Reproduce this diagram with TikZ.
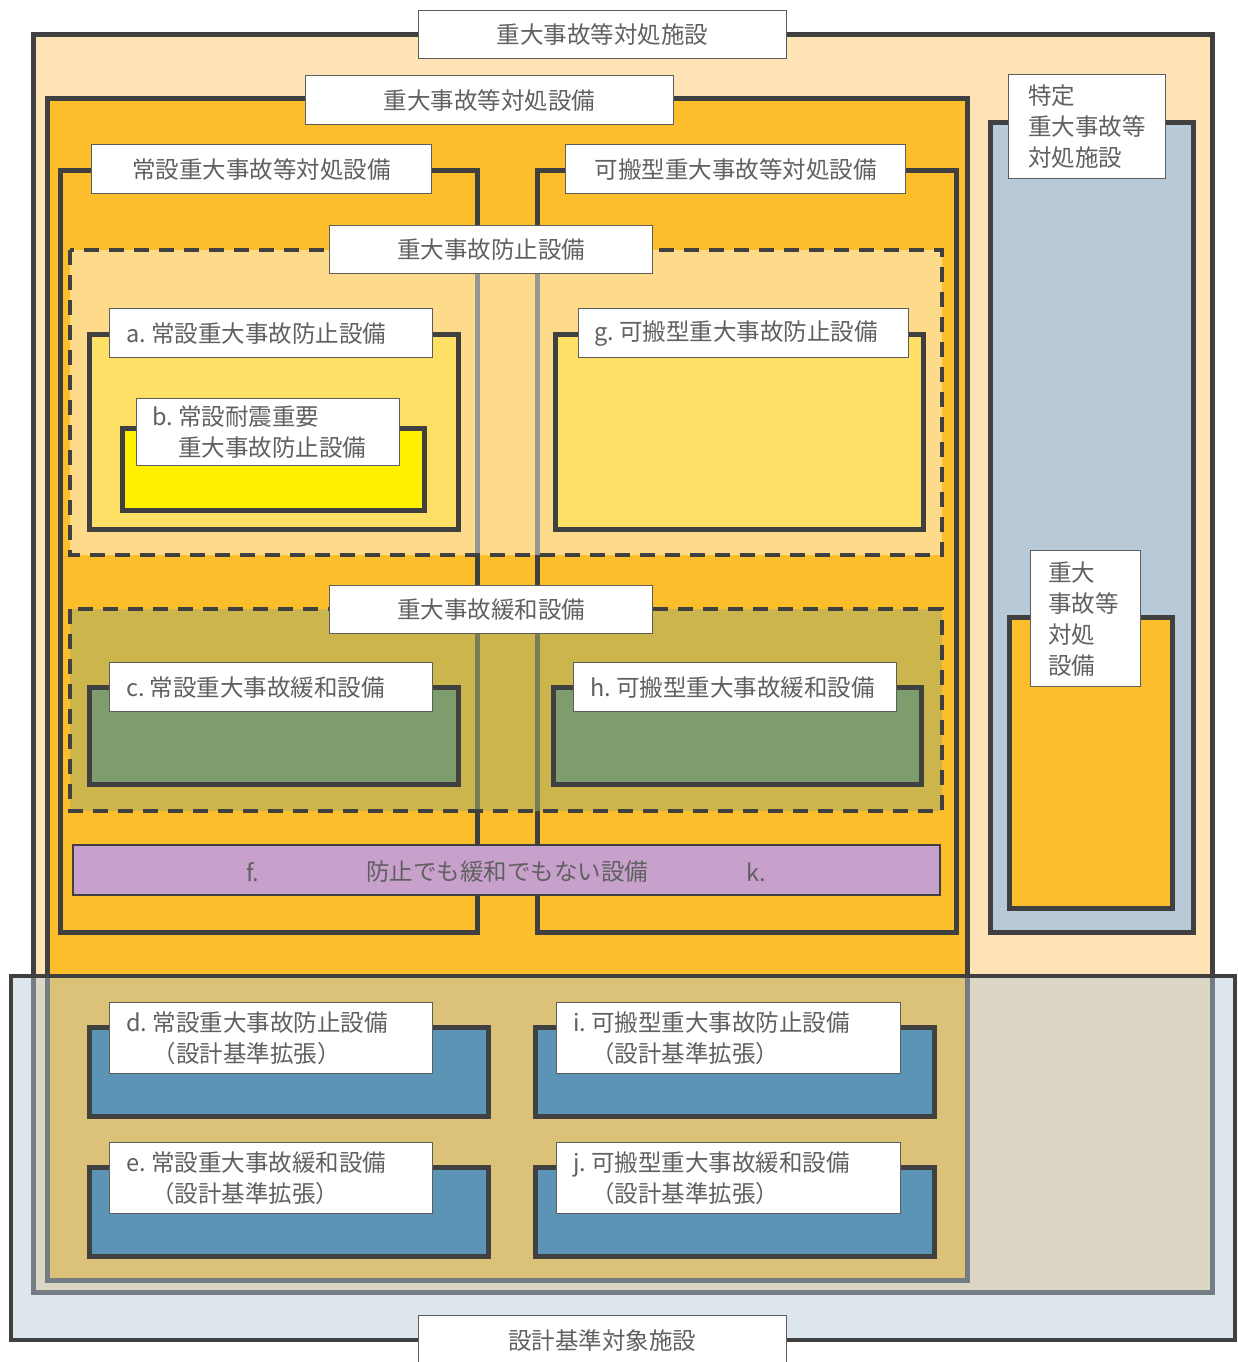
\documentclass[tikz,border=0pt]{standalone}
\usepackage{fontspec}
\setmainfont{Noto Sans CJK JP}
\definecolor{peach}{RGB}{253,227,182}
\definecolor{orng}{RGB}{253,190,43}
\definecolor{lineC}{RGB}{64,64,64}
\definecolor{ayel}{RGB}{255,224,102}
\definecolor{byel}{RGB}{255,240,0}
\definecolor{grn}{RGB}{125,158,108}
\definecolor{purp}{RGB}{199,161,204}
\definecolor{sblue}{RGB}{184,202,216}
\definecolor{dblue}{RGB}{92,148,182}
\definecolor{ovl}{RGB}{180,200,215}
\definecolor{olv}{RGB}{166,174,107}
\definecolor{txt}{RGB}{96,96,96}
\begin{document}
\begin{tikzpicture}[x=1pt,y=-1pt,
  heavy/.style={draw=lineC, line width=5pt},
  dashbox/.style={draw=lineC, line width=4pt, dash pattern=on 15pt off 10pt},
  labbox/.style={draw=lineC!85, line width=1.2pt, fill=white, inner sep=0pt, anchor=north west},
  lbl/.style={text=txt, font=\fontsize{23.5}{31}\selectfont, inner sep=0pt, align=left},
]
\useasboundingbox (0,0) rectangle (1237,1362);
\fill[white] (0,0) rectangle (1237,1362);
% outer facility
\draw[heavy, fill=peach] (33,35) rectangle (1212,1292);
% SA equipment
\draw[heavy, fill=orng] (47,99) rectangle (967,1280);
\draw[heavy] (60,170) rectangle (477,932);
\draw[heavy] (537,170) rectangle (956,932);
% prevention region
\draw[dashbox, fill=white, fill opacity=0.45] (70,250) rectangle (942,555);
\draw[heavy, fill=ayel] (89,334) rectangle (458,529);
\draw[heavy, fill=byel] (122,428) rectangle (424,510);
\draw[heavy, fill=ayel] (555,334) rectangle (923,529);
% mitigation region
\draw[dashbox, fill=olv, fill opacity=0.55] (70,609) rectangle (942,811);
\draw[heavy, fill=grn] (89,687) rectangle (458,784);
\draw[heavy, fill=grn] (553,687) rectangle (921,784);
% purple bar
\draw[draw=lineC, line width=1.5pt, fill=purp] (73,845) rectangle (940,895);
% specific facility
\draw[heavy, fill=sblue] (990,123) rectangle (1193,932);
\draw[heavy, fill=orng] (1009,617) rectangle (1172,908);
% design basis overlay
\draw[draw=lineC, line width=4pt, fill=ovl, fill opacity=0.45] (11,976) rectangle (1235,1340);
\draw[heavy, fill=dblue] (89,1027) rectangle (488,1116);
\draw[heavy, fill=dblue] (535,1027) rectangle (934,1116);
\draw[heavy, fill=dblue] (89,1167) rectangle (488,1256);
\draw[heavy, fill=dblue] (535,1167) rectangle (934,1256);

% labels
\node[labbox, minimum width=368pt, minimum height=48pt] (L1) at (418,10) {};
\node[lbl] (T1) at (L1.center) {重大事故等対処施設};
\node[labbox, minimum width=368pt, minimum height=49pt] (L2) at (305,75) {};
\node[lbl] (T2) at (L2.center) {重大事故等対処設備};
\node[labbox, minimum width=340pt, minimum height=49pt] (L3) at (91,144) {};
\node[lbl] (T3) at (L3.center) {常設重大事故等対処設備};
\node[labbox, minimum width=340pt, minimum height=49pt] (L4) at (565,144) {};
\node[lbl] (T4) at (L4.center) {可搬型重大事故等対処設備};
\node[labbox, minimum width=323pt, minimum height=48pt] (L5) at (329,225) {};
\node[lbl] (T5) at (L5.center) {重大事故防止設備};
\node[labbox, minimum width=323pt, minimum height=49pt] (La) at (109,308) {};
\node[lbl, anchor=west] (Ta) at ([xshift=17pt]La.west) {a.\ 常設重大事故防止設備};
\node[labbox, minimum width=263pt, minimum height=67pt] (Lb) at (136,398) {};
\node[lbl, anchor=west] (Tb) at ([xshift=16pt]Lb.west) {b.\ 常設耐震重要\\\hphantom{b.\ }重大事故防止設備};
\node[labbox, minimum width=330pt, minimum height=49pt] (Lg) at (578,308) {};
\node[lbl, anchor=west] (Tg) at ([xshift=16pt]Lg.west) {g.\ 可搬型重大事故防止設備};
\node[labbox, minimum width=323pt, minimum height=48pt] (L6) at (329,585) {};
\node[lbl] (T6) at (L6.center) {重大事故緩和設備};
\node[labbox, minimum width=323pt, minimum height=49pt] (Lc) at (109,662) {};
\node[lbl, anchor=west] (Tc) at ([xshift=17pt]Lc.west) {c.\ 常設重大事故緩和設備};
\node[labbox, minimum width=323pt, minimum height=49pt] (Lh) at (573,662) {};
\node[lbl, anchor=west] (Th) at ([xshift=17pt]Lh.west) {h.\ 可搬型重大事故緩和設備};
% bar texts
\node[lbl] (Tf) at (253,872) {f.};
\node[lbl] (Tfk) at (507,872) {防止でも緩和でもない設備};
\node[lbl] (Tk) at (756,872) {k.};
% right side
\node[labbox, minimum width=157pt, minimum height=104pt] (Ls) at (1008,74) {};
\node[lbl, anchor=west] (Ts) at ([xshift=20pt]Ls.west) {特定\\重大事故等\\対処施設};
\node[labbox, minimum width=110pt, minimum height=136pt] (Lr) at (1030,550) {};
\node[lbl, anchor=west] (Tr) at ([xshift=18pt]Lr.west) {重大\\事故等\\対処\\設備};
% bottom boxes
\node[labbox, minimum width=323pt, minimum height=71pt] (Ld) at (109,1002) {};
\node[lbl, anchor=west] (Td) at ([xshift=17pt]Ld.west) {d.\ 常設重大事故防止設備\\\hphantom{d.\ }（設計基準拡張）};
\node[labbox, minimum width=344pt, minimum height=71pt] (Li) at (556,1002) {};
\node[lbl, anchor=west] (Ti) at ([xshift=17pt]Li.west) {i.\ 可搬型重大事故防止設備\\\hphantom{i.\ }（設計基準拡張）};
\node[labbox, minimum width=323pt, minimum height=71pt] (Le) at (109,1142) {};
\node[lbl, anchor=west] (Te) at ([xshift=17pt]Le.west) {e.\ 常設重大事故緩和設備\\\hphantom{e.\ }（設計基準拡張）};
\node[labbox, minimum width=344pt, minimum height=71pt] (Lj) at (556,1142) {};
\node[lbl, anchor=west] (Tj) at ([xshift=17pt]Lj.west) {j.\ 可搬型重大事故緩和設備\\\hphantom{j.\ }（設計基準拡張）};
\node[labbox, minimum width=368pt, minimum height=60pt] (Lbot) at (418,1315) {};
\node[lbl] (Tbot) at (602,1341) {設計基準対象施設};
\end{tikzpicture}
\end{document}
